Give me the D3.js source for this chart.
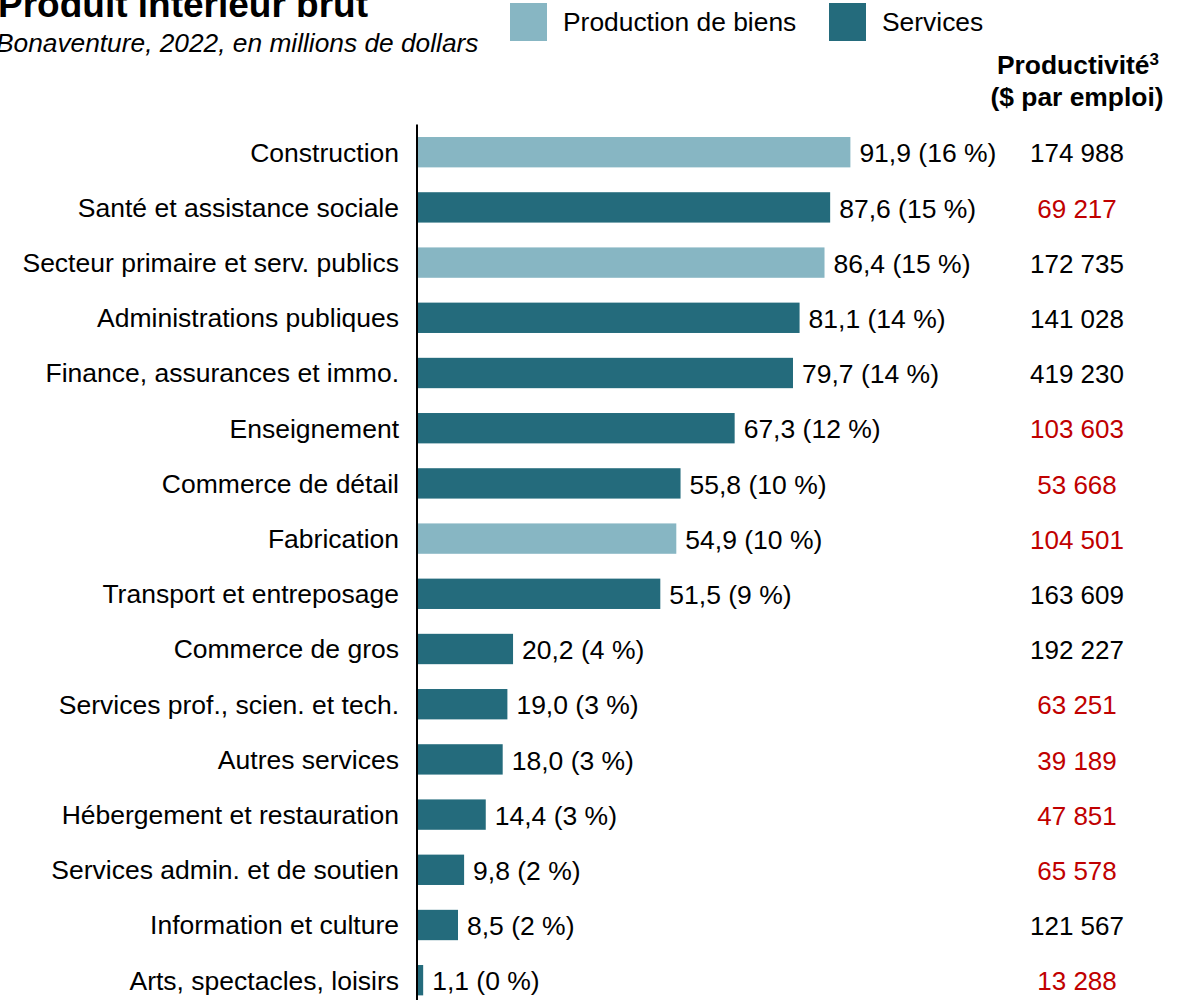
<!DOCTYPE html>
<html>
<head>
<meta charset="utf-8">
<script src="https://cdn.jsdelivr.net/npm/d3@7"></script>
<style>
  html, body { margin: 0; padding: 0; background: #fff; overflow: hidden; }
  svg { display: block; font-family: Arial, 'Liberation Sans', sans-serif; }
</style>
</head>
<body>
<div id="chart"></div>
<script>
/* global d3 */

var categories = ['Construction', 'Santé et assistance sociale', 'Secteur primaire et serv. publics',
  'Administrations publiques', 'Finance, assurances et immo.', 'Enseignement', 'Commerce de détail',
  'Fabrication', 'Transport et entreposage', 'Commerce de gros', 'Services prof., scien. et tech.',
  'Autres services', 'Hébergement et restauration', 'Services admin. et de soutien',
  'Information et culture', 'Arts, spectacles, loisirs'];
var gdp = [91.9, 87.6, 86.4, 81.1, 79.7, 67.3, 55.8, 54.9, 51.5, 20.2, 19.0, 18.0, 14.4, 9.8, 8.5, 1.1];
var shares = [16, 15, 15, 14, 14, 12, 10, 10, 9, 4, 3, 3, 3, 2, 2, 0];
var sectorType = ['Biens', 'Services', 'Biens', 'Services', 'Services', 'Services', 'Services', 'Biens',
  'Services', 'Services', 'Services', 'Services', 'Services', 'Services', 'Services', 'Services'];
var productivity = [174988, 69217, 172735, 141028, 419230, 103603, 53668, 104501, 163609, 192227,
  63251, 39189, 47851, 65578, 121567, 13288];
var belowAverage = [false, true, false, false, false, true, true, true, false, false,
  true, true, true, true, false, true];
var legendKeys = ['Biens', 'Services'];
var legendLabels = ['Production de biens', 'Services'];

var w = 1188,
h = 1000,
fs = 26.5;

var colorScale = d3.scaleOrdinal().
domain(legendKeys).
range(['#87b6c3', '#246b7c']);

var frNum = d3.formatLocale({ decimal: ',', thousands: '\u00a0', grouping: [3], currency: ['', ' $'] });
var fmtVal = frNum.format('.1f');
var fmtProd = frNum.format(',d');

var rows = categories.map(function (c, i) {
  return { name: c, value: gdp[i], share: shares[i], type: sectorType[i], prod: productivity[i], red: belowAverage[i] };
});

var svg = d3.select('#chart').
append('svg').
attr('width', w).
attr('height', h);

// title block (partly cut at the top-left like the source)
svg.append('text').
attr('x', -2).
attr('y', 17).
style('font-size', '37px').
style('font-weight', 'bold').
text('Produit intérieur brut');

svg.append('text').
attr('x', -4).
attr('y', 52).
style('font-size', '26.3px').
style('font-style', 'italic').
text('Bonaventure, 2022, en millions de dollars');

// legend
var legend = svg.append('g').
selectAll('g').
data(legendKeys).
enter().
append('g').
attr('transform', (d, i) => 'translate(' + [510, 829][i] + ',3)');

legend.append('rect').
attr('width', 37).
attr('height', 38).
attr('fill', d => colorScale(d));

legend.append('text').
attr('x', 53).
attr('y', 28).
style('font-size', '26.4px').
text((d, i) => legendLabels[i]);

// productivity header
var head = svg.append('text').
attr('text-anchor', 'middle').
style('font-size', '26.4px').
style('font-weight', 'bold');
var l1 = head.append('tspan').attr('x', 1078).attr('y', 74).text('Productivité');
l1.append('tspan').style('font-size', '17px').attr('dy', -9).text('3');
head.append('tspan').attr('x', 1077).attr('y', 106).text('($ par emploi)');

// scales
var yScale = d3.scaleBand().
domain(categories).
range([124.6, 124.6 + 16 * 55.2]).
paddingInner(0.45).
paddingOuter(0.225);

var xScale = d3.scaleLinear().
domain([0, 100]).
range([418, 888.5]);

var plot = svg.append('g');

plot.selectAll('rect.bar').
data(rows).
enter().
append('rect').
attr('class', 'bar').
attr('x', xScale(0)).
attr('y', d => yScale(d.name)).
attr('width', d => xScale(d.value) - xScale(0)).
attr('height', yScale.bandwidth()).
attr('fill', d => colorScale(d.type));

plot.selectAll('text.val').
data(rows).
enter().
append('text').
attr('class', 'val').
attr('x', d => xScale(d.value) + 9).
attr('y', d => yScale(d.name) + yScale.bandwidth() / 2 + 1).
attr('dy', '0.35em').
style('font-size', fs + 'px').
text(d => fmtVal(d.value) + ' (' + d.share + '\u00a0%)');

plot.selectAll('text.prod').
data(rows).
enter().
append('text').
attr('class', 'prod').
attr('x', 1077).
attr('y', d => yScale(d.name) + yScale.bandwidth() / 2 + 1).
attr('dy', '0.35em').
attr('text-anchor', 'middle').
attr('fill', d => d.red ? '#c00000' : '#000').
style('font-size', '26px').
text(d => fmtProd(d.prod));

// y axis: category labels and the vertical line, no ticks
var yAxis = d3.axisLeft(yScale).
tickSize(0).
tickPadding(18);

var gy = svg.append('g').
attr('transform', 'translate(417,1)').
call(yAxis);

gy.select('.domain').
attr('d', 'M0,' + 123.6 + 'V' + (124.6 + 16 * 55.2)).
attr('stroke', '#000').
attr('stroke-width', 2);

gy.selectAll('.tick text').
style('font-size', fs + 'px').
style('font-family', "Arial, 'Liberation Sans', sans-serif").
attr('fill', '#000');
</script>
</body>
</html>
